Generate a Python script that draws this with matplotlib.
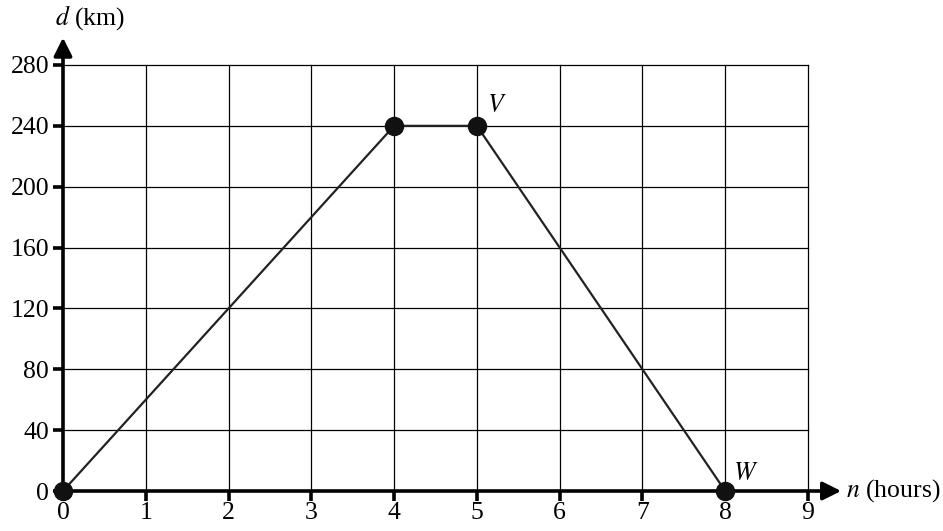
import matplotlib.pyplot as plt

plt.rcParams['font.family'] = ['Liberation Serif', 'DejaVu Serif']
plt.rcParams['mathtext.fontset'] = 'stix'

# data
hours = [0, 4, 5, 8]
dist = [0, 240, 240, 0]
x_ticks = list(range(0, 10))
y_ticks = list(range(0, 281, 40))

fig = plt.figure(figsize=(9.43, 5.31), dpi=100)
ax = fig.add_axes([63 / 943, 40 / 531, 745 / 943, 426 / 531])

ax.set_xlim(0, 9)
ax.set_ylim(0, 280)

# grid
for x in x_ticks[1:]:
    ax.plot([x, x], [0, 280], color='black', lw=0.9, zorder=1, clip_on=False)
for y in y_ticks[1:]:
    ax.plot([0, 9], [y, y], color='black', lw=0.9, zorder=1, clip_on=False)

for s in ax.spines.values():
    s.set_visible(False)

# axes with arrows
arrow = dict(arrowstyle='-|>,head_length=1.1,head_width=0.55',
             color='black', lw=2.6, shrinkA=0, shrinkB=0)
ax.annotate('', xy=(9.4, 0), xytext=(0, 0), arrowprops=arrow,
            annotation_clip=False, zorder=3)
ax.annotate('', xy=(0, 298), xytext=(0, 0), arrowprops=arrow,
            annotation_clip=False, zorder=3)

ax.set_xticks(x_ticks)
ax.set_yticks(y_ticks)
ax.tick_params(axis='both', direction='out', length=7, width=2.6,
               labelsize=18.5, pad=1)
ax.tick_params(axis='y', pad=3)

# the graph
ax.plot(hours, dist, color='#222222', lw=1.6, zorder=4)
ax.plot(hours, dist, 'o', color='#111111', markersize=13, zorder=5,
        clip_on=False)

ax.text(5.12, 246, '$V$', fontsize=18.5, ha='left', va='bottom')
ax.text(8.1, 4, '$W$', fontsize=18.5, ha='left', va='bottom')

ax.text(-0.1, 302, '$d$ (km)', fontsize=18.5, ha='left', va='bottom')
ax.text(9.46, 0, '$n$ (hours)', fontsize=18.5, ha='left', va='center')

fig.savefig('out.png', dpi=100)
